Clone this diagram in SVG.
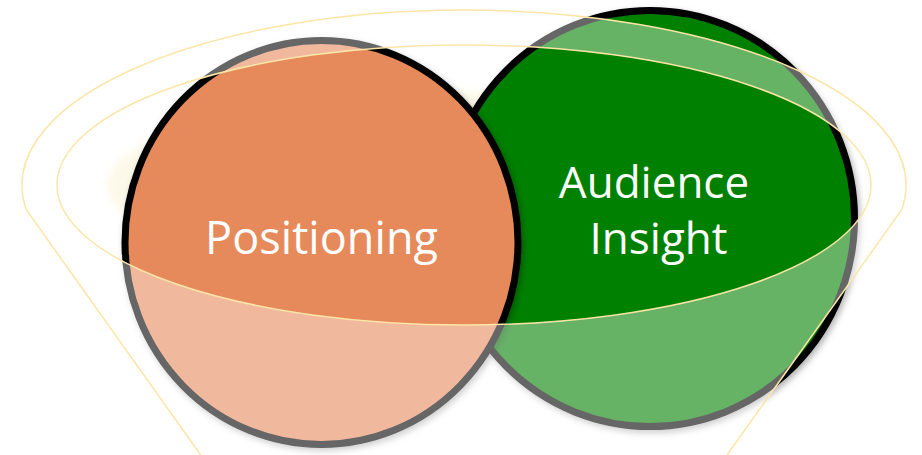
<svg xmlns="http://www.w3.org/2000/svg" width="922" height="455" viewBox="0 0 922 455">
  <defs>
    <filter id="shadow" x="-10%" y="-10%" width="120%" height="120%">
      <feDropShadow dx="2" dy="3" stdDeviation="3" flood-color="#000" flood-opacity="0.3"/>
    </filter>
    <filter id="soft" x="-5%" y="-10%" width="110%" height="120%">
      <feGaussianBlur stdDeviation="3"/>
    </filter>
  </defs>
  <style>
    .ring { stroke: #000; stroke-width: 7; }
    .label { font-family: "Open Sans", Lato, "Liberation Sans", sans-serif; fill: #fff; text-anchor: middle; font-variant-ligatures: none; }
    .funnel-line { fill: none; stroke: #FCE5A6; stroke-width: 1.5; }
  </style>

  <!-- faint cream glow behind the circles -->
  <ellipse cx="464" cy="185" rx="357" ry="94" fill="#FDF9EA" filter="url(#soft)"/>

  <g id="audience-insight">
    <ellipse class="ring" cx="650" cy="218.5" rx="204.5" ry="208" fill="#008000" filter="url(#shadow)"/>
  </g>

  <g id="positioning">
    <ellipse class="ring" cx="321.5" cy="242.5" rx="196.5" ry="202" fill="#E68A5C" filter="url(#shadow)"/>
  </g>

  <!-- funnel: translucent veil with a clear elliptical mouth -->
  <g id="funnel">
    <path fill="#fff" fill-opacity="0.4" fill-rule="evenodd"
          d="M26.5,210 A442,175 0 1 1 901.5,210 L463,824 Z
             M57,185 A407,140 0 1 0 871,185 A407,140 0 1 0 57,185 Z"/>
    <path class="funnel-line" d="M200.7,455 L26.5,210 A442,175 0 1 1 901.5,210 L727,455"/>
    <ellipse class="funnel-line" cx="464" cy="185" rx="407" ry="140"/>
  </g>

  <g id="labels">
    <text class="label" x="321.5" y="254" font-size="45" textLength="233" lengthAdjust="spacing">Positioning</text>
    <text class="label" x="654" y="198" font-size="44">Audience</text>
    <text class="label" x="658.5" y="254" font-size="44">Insight</text>
  </g>
</svg>
